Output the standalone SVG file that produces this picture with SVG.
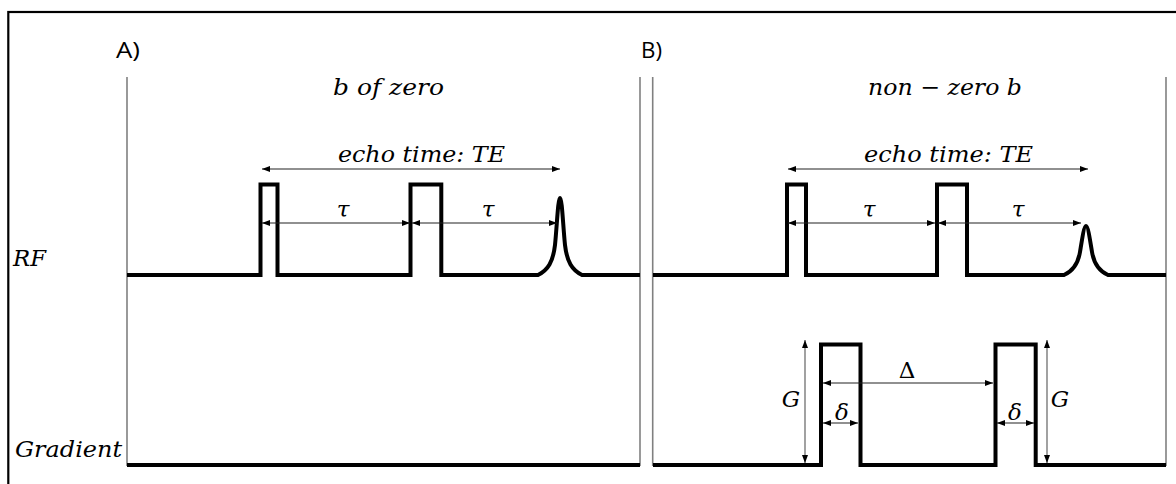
<svg xmlns="http://www.w3.org/2000/svg" width="1176" height="484" viewBox="0 0 1176 484">
<defs>
<marker id="ah" viewBox="0 0 8 6" refX="8" refY="3" markerWidth="8" markerHeight="6" markerUnits="userSpaceOnUse" orient="auto-start-reverse"><path d="M0,0 L8,3 L0,6 z" fill="#000"/></marker>
<style>
.frame{fill:none;stroke:#000;stroke-width:2.2}
.panel{stroke:#808080;stroke-width:1.6;fill:none}
.sig{fill:none;stroke:#000;stroke-width:4;stroke-linejoin:miter;stroke-linecap:butt}
.arr{stroke:#222;stroke-width:1.1;fill:none;marker-start:url(#ah);marker-end:url(#ah)}
.garr{stroke:#555;stroke-width:1.1;fill:none;marker-start:url(#ah);marker-end:url(#ah)}
.m{font-family:"DejaVu Serif","Liberation Serif",serif;font-style:italic;font-size:23px;fill:#000}
.up{font-family:"DejaVu Serif","Liberation Serif",serif;font-size:23px;fill:#000}
.lab{font-family:"Open Sans","Liberation Sans",sans-serif;font-size:21px;fill:#000}
</style>
</defs>
<rect class="frame" x="8.3" y="12" width="1200" height="520"/>
<g id="panelA">
<line class="panel" x1="127" y1="77" x2="127" y2="466"/>
<line class="panel" x1="640" y1="77" x2="640" y2="466"/>
<text class="lab" x="116" y="58" textLength="24" lengthAdjust="spacingAndGlyphs">A)</text>
<text class="m" x="333" y="95" textLength="111" lengthAdjust="spacingAndGlyphs">b of zero</text>
<text class="m" x="338" y="162" textLength="167" lengthAdjust="spacingAndGlyphs">echo time: TE</text>
<text class="m" x="343" y="217" text-anchor="middle">τ</text>
<text class="m" x="488" y="217" text-anchor="middle">τ</text>
<path id="rfA" class="sig" d="M127,275 H260.5 V184.5 H277.5 V275 H410.5 V184.5 H441.3 V275 H538 C548,270 553,262 555,245 C557,225 558,198 560,198 C562,198 563,225 565,245 C567,262 572,270 582,275 H640"/>
<path id="gradA" class="sig" d="M127,465 H640"/>
</g>
<g id="panelB">
<line class="panel" x1="652.7" y1="77" x2="652.7" y2="466"/>
<line class="panel" x1="1166" y1="77" x2="1166" y2="466"/>
<text class="lab" x="641" y="58" textLength="21" lengthAdjust="spacingAndGlyphs">B)</text>
<text class="m" x="868" y="95" textLength="154" lengthAdjust="spacingAndGlyphs">non − zero b</text>
<text class="m" x="864" y="162" textLength="169" lengthAdjust="spacingAndGlyphs">echo time: TE</text>
<text class="m" x="869" y="217" text-anchor="middle">τ</text>
<text class="m" x="1018" y="217" text-anchor="middle">τ</text>
<path id="rfB" class="sig" d="M653,275 H787 V184.5 H806 V275 H937 V184.5 H967 V275 H1064 C1073,271 1078,264 1080,252 C1082,240 1084,226 1086,226 C1088,226 1090,240 1092,252 C1094,264 1099,271 1108,275 H1166"/>
<path id="gradB" class="sig" d="M653,465 H821 V344.5 H860.5 V465 H995.5 V344.5 H1035.7 V465 H1166"/>
<text class="m" x="791" y="407" text-anchor="middle">G</text>
<text class="m" x="1060" y="407" text-anchor="middle">G</text>
<text class="up" x="907" y="378" text-anchor="middle">Δ</text>
<text class="m" x="842" y="420" text-anchor="middle">δ</text>
<text class="m" x="1015" y="420" text-anchor="middle">δ</text>
</g>
<g id="rowlabels">
<text class="m" x="13" y="266" textLength="33" lengthAdjust="spacingAndGlyphs">RF</text>
<text class="m" x="15" y="457" textLength="107" lengthAdjust="spacingAndGlyphs">Gradient</text>
</g>
<g id="connectors">
<line class="arr" x1="262" y1="169" x2="560" y2="169"/>
<line class="arr" x1="262" y1="223" x2="410" y2="223"/>
<line class="arr" x1="412" y1="223" x2="557" y2="223"/>
<line class="arr" x1="788" y1="169" x2="1088" y2="169"/>
<line class="arr" x1="788" y1="223" x2="935" y2="223"/>
<line class="arr" x1="938" y1="223" x2="1081" y2="223"/>
<line class="garr" x1="805" y1="340" x2="805" y2="463"/>
<line class="garr" x1="1047" y1="340" x2="1047" y2="463"/>
<line class="arr" x1="823" y1="383" x2="993" y2="383"/>
<line class="arr" x1="823" y1="423" x2="858" y2="423"/>
<line class="arr" x1="997" y1="423" x2="1034" y2="423"/>
</g>
</svg>
